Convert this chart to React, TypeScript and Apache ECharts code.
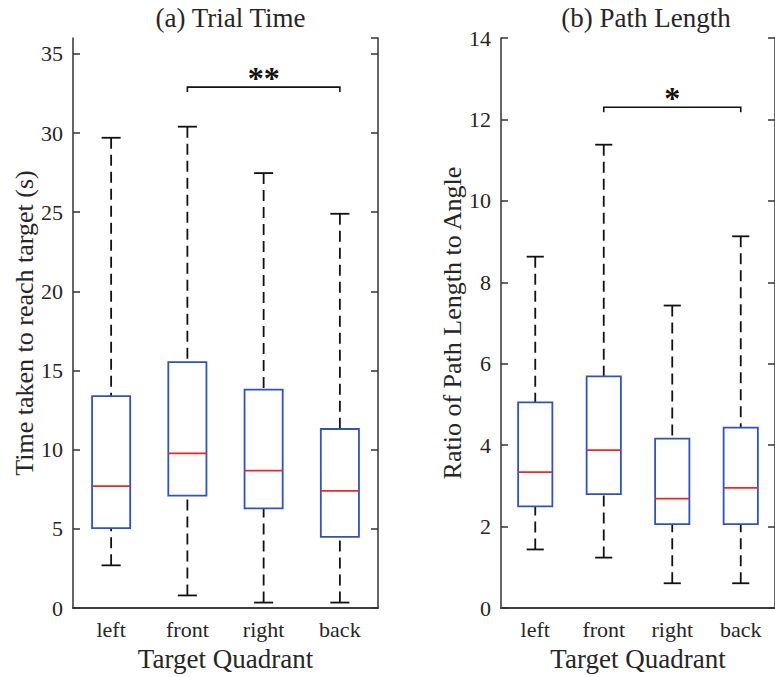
import React, { useEffect, useRef } from "react";
import * as echarts from "echarts";

const categories = ["left", "front", "right", "back"];

// (a) Trial Time (s)
const timeMin = [2.7, 0.8, 0.35, 0.35];
const timeQ1 = [5.05, 7.1, 6.3, 4.5];
const timeMedian = [7.7, 9.77, 8.68, 7.4];
const timeQ3 = [13.38, 15.53, 13.8, 11.31];
const timeMax = [29.7, 30.4, 27.47, 24.9];

// (b) Path length ratio
const ratioMin = [1.44, 1.24, 0.61, 0.61];
const ratioQ1 = [2.5, 2.8, 2.06, 2.06];
const ratioMedian = [3.34, 3.88, 2.69, 2.95];
const ratioQ3 = [5.05, 5.69, 4.16, 4.43];
const ratioMax = [8.63, 11.38, 7.43, 9.13];

// significance brackets: [fromIndex, toIndex, y]
const timeSig = [[1, 3, 32.9]];
const timeSigLabels = ["**"];
const ratioSig = [[1, 3, 12.3]];
const ratioSigLabels = ["*"];

const FONT = "'Liberation Serif', 'Times New Roman', serif";
const TEXT = "#262626";
const AXIS = "#333333";
const BLUE = "#2f52c0";
const RED = "#f02525";

function boxData(mn: number[], q1: number[], md: number[], q3: number[], mx: number[]) {
  return categories.map((_, i) => [i, mn[i], q1[i], md[i], q3[i], mx[i]]);
}

function renderBox(params: any, api: any) {
  const x = api.value(0);
  const pMin = api.coord([x, api.value(1)]);
  const pQ1 = api.coord([x, api.value(2)]);
  const pMed = api.coord([x, api.value(3)]);
  const pQ3 = api.coord([x, api.value(4)]);
  const pMax = api.coord([x, api.value(5)]);
  const band = api.size([1, 0])[0];
  const bw = band * 0.5;
  const cw = bw * 0.5;
  const cx = pMin[0];
  const dash = { stroke: "#111", lineWidth: 1.8, lineDash: [11, 6], fill: null };
  const solid = { stroke: "#111", lineWidth: 1.8, fill: null };
  return {
    type: "group",
    children: [
      { type: "line", shape: { x1: cx, y1: pMax[1], x2: cx, y2: pQ3[1] }, style: dash },
      { type: "line", shape: { x1: cx, y1: pMin[1], x2: cx, y2: pQ1[1] }, style: dash },
      { type: "line", shape: { x1: cx - cw / 2, y1: pMax[1], x2: cx + cw / 2, y2: pMax[1] }, style: solid },
      { type: "line", shape: { x1: cx - cw / 2, y1: pMin[1], x2: cx + cw / 2, y2: pMin[1] }, style: solid },
      {
        type: "rect",
        shape: { x: cx - bw / 2, y: pQ3[1], width: bw, height: pQ1[1] - pQ3[1] },
        style: { stroke: BLUE, lineWidth: 1.8, fill: "#fff" },
      },
      {
        type: "line",
        shape: { x1: cx - bw / 2, y1: pMed[1], x2: cx + bw / 2, y2: pMed[1] },
        style: { stroke: RED, lineWidth: 1.8 },
      },
    ],
  };
}

function makeSigRenderer(labels: string[]) {
  return function (params: any, api: any) {
    const a = api.coord([api.value(0), api.value(2)]);
    const b = api.coord([api.value(1), api.value(2)]);
    const tick = 5;
    return {
      type: "group",
      children: [
        {
          type: "polyline",
          shape: { points: [[a[0], a[1] + tick], [a[0], a[1]], [b[0], b[1]], [b[0], b[1] + tick]] },
          style: { stroke: "#111", lineWidth: 1.6, fill: null },
        },
        {
          type: "text",
          style: {
            text: labels[params.dataIndex],
            x: (a[0] + b[0]) / 2,
            y: a[1] + 7,
            align: "center",
            verticalAlign: "bottom",
            font: `bold 32px ${FONT}`,
            fill: "#111",
          },
        },
      ],
    };
  };
}

function xAxes(gridIndex: number) {
  const common = {
    type: "category" as const,
    data: categories,
    gridIndex,
    boundaryGap: true,
    axisLine: { lineStyle: { color: AXIS, width: 1.5 } },
    axisTick: { inside: true, alignWithLabel: true, length: 7, lineStyle: { color: AXIS, width: 1.5 } },
    splitLine: { show: false },
  };
  return [
    {
      ...common,
      position: "bottom",
      name: "Target Quadrant",
      nameLocation: "middle",
      nameGap: 36,
      nameTextStyle: { fontFamily: FONT, fontSize: 27, color: TEXT },
      axisLabel: { fontFamily: FONT, fontSize: 22, color: TEXT, margin: 10 },
    },
    { ...common, position: "top", axisLabel: { show: false } },
  ];
}

function yAxes(gridIndex: number, max: number, interval: number, name: string, showMax: boolean, gap: number) {
  const common = {
    type: "value" as const,
    gridIndex,
    min: 0,
    max,
    interval,
    axisLine: { show: true, lineStyle: { color: AXIS, width: 1.5 } },
    axisTick: { show: true, inside: true, length: 7, lineStyle: { color: AXIS, width: 1.5 } },
    splitLine: { show: false },
  };
  return [
    {
      ...common,
      position: "left",
      name,
      nameLocation: "middle",
      nameGap: gap,
      nameTextStyle: { fontFamily: FONT, fontSize: 26, color: TEXT },
      axisLabel: { fontFamily: FONT, fontSize: 22, color: TEXT, margin: 10, showMaxLabel: showMax },
    },
    { ...common, position: "right", axisLabel: { show: false } },
  ];
}

export default function App() {
  const ref = useRef<HTMLDivElement>(null);
  useEffect(() => {
    if (!ref.current) return;
    const chart = echarts.init(ref.current, null, { renderer: "svg" });
    chart.setOption({
      animation: false,
      backgroundColor: "#ffffff",
      title: [
        {
          text: "(a) Trial Time",
          left: 225.5,
          top: -1,
          textAlign: "center",
          textStyle: { fontFamily: FONT, fontSize: 27, fontWeight: "normal", color: TEXT },
        },
        {
          text: "(b) Path Length",
          left: 641,
          top: -1,
          textAlign: "center",
          textStyle: { fontFamily: FONT, fontSize: 27, fontWeight: "normal", color: TEXT },
        },
      ],
      grid: [
        { left: 73, top: 38, width: 305, height: 571 },
        { left: 501, top: 38, width: 280, height: 571 },
      ],
      xAxis: [...xAxes(0), ...xAxes(1)],
      yAxis: [
        ...yAxes(0, 36, 5, "Time taken to reach target (s)", false, 32),
        ...yAxes(1, 14, 2, "Ratio of Path Length to Angle", true, 33),
      ],
      series: [
        {
          type: "custom",
          xAxisIndex: 0,
          yAxisIndex: 0,
          renderItem: renderBox,
          encode: { x: 0, y: [1, 2, 3, 4, 5] },
          data: boxData(timeMin, timeQ1, timeMedian, timeQ3, timeMax),
          clip: false,
        },
        {
          type: "custom",
          xAxisIndex: 2,
          yAxisIndex: 2,
          renderItem: renderBox,
          encode: { x: 0, y: [1, 2, 3, 4, 5] },
          data: boxData(ratioMin, ratioQ1, ratioMedian, ratioQ3, ratioMax),
          clip: false,
        },
        {
          type: "custom",
          xAxisIndex: 0,
          yAxisIndex: 0,
          renderItem: makeSigRenderer(timeSigLabels),
          encode: { x: [0, 1], y: 2 },
          data: timeSig,
          clip: false,
        },
        {
          type: "custom",
          xAxisIndex: 2,
          yAxisIndex: 2,
          renderItem: makeSigRenderer(ratioSigLabels),
          encode: { x: [0, 1], y: 2 },
          data: ratioSig,
          clip: false,
        },
      ],
    });
    return () => chart.dispose();
  }, []);
  return (
    <div
      ref={ref}
      style={{ position: "fixed", left: 0, top: 0, width: 775, height: 677, background: "#fff" }}
    />
  );
}
